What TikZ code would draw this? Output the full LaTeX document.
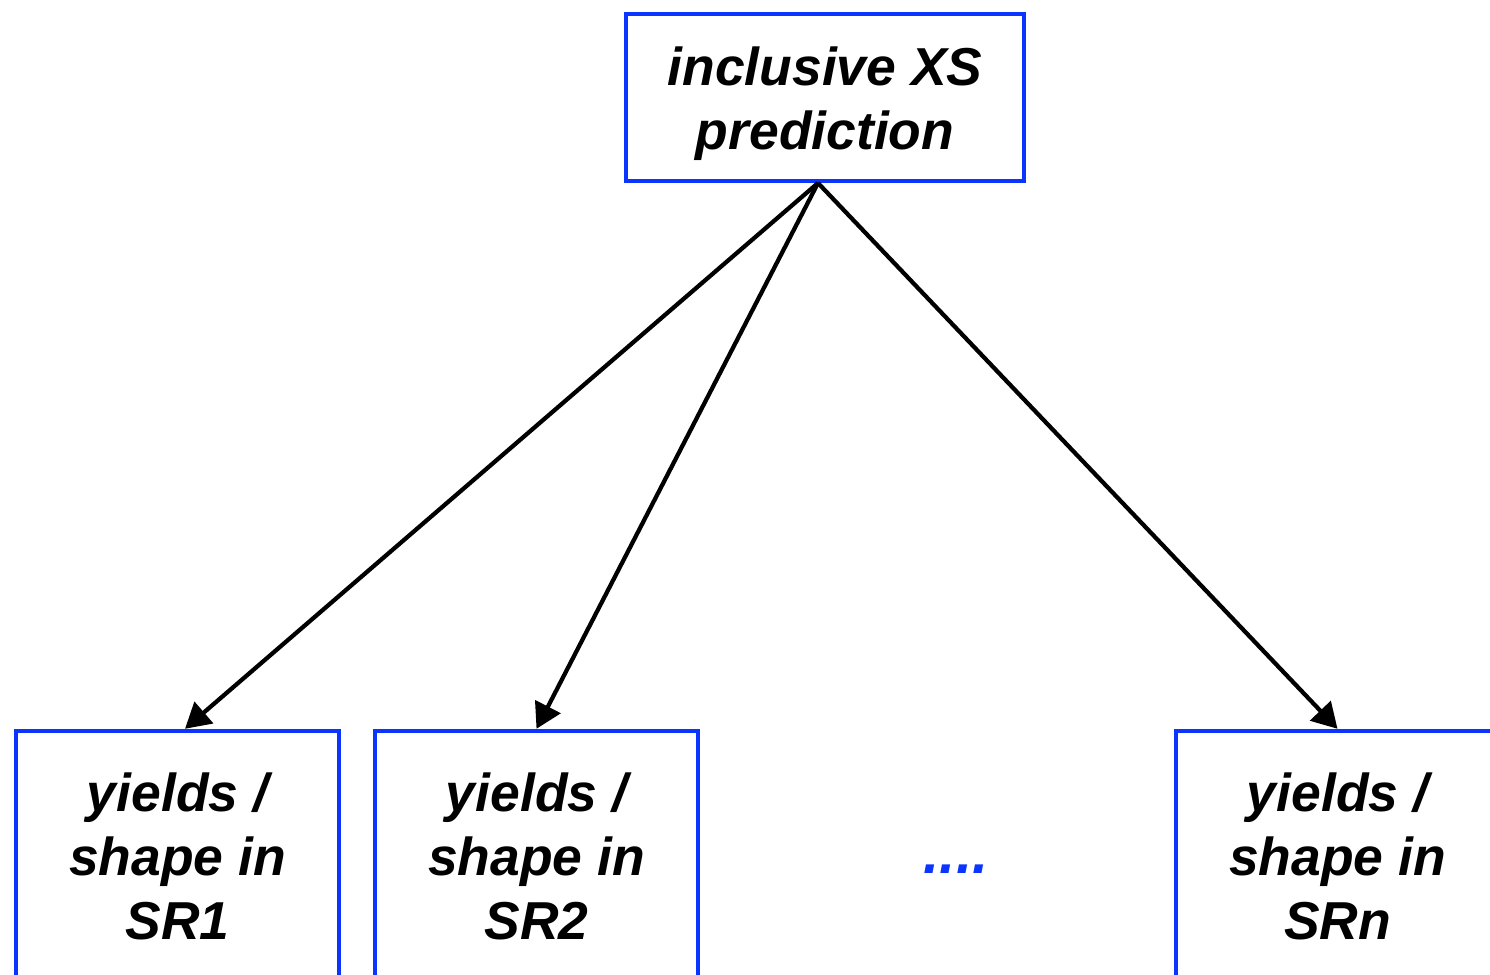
\documentclass[tikz,border=0pt]{standalone}
\usepackage{fontspec}
\setmainfont{Liberation Sans}
\usepackage{tikz}
\usetikzlibrary{arrows.meta,positioning}
\definecolor{boxBlue}{HTML}{0B35FF}

\begin{document}
\begin{tikzpicture}[
  x=0.02cm, y=-0.02cm,
  font=\fontsize{30.4}{36.4}\selectfont\bfseries\itshape, >={Triangle[length=0.5cm,width=0.56cm]},
  pred/.style={draw=boxBlue, line width=0.09cm, inner sep=0pt, align=center, minimum width=7.96cm, minimum height=3.34cm},
  region/.style={draw=boxBlue, line width=0.09cm, inner sep=0pt, align=center, minimum width=6.46cm, minimum height=5cm},
  link/.style={->, line width=0.085cm}
]
\useasboundingbox (0,0) rectangle (1490,974);

% top: the prediction
\node[pred] (xs) at (825,97.5) {\rule{0pt}{29pt}inclusive XS\\prediction};
\coordinate (split) at (818,183);

% bottom: signal regions
\node[region] (sr1) at (177.5,856) {yields /\\shape in\\SR1};
\node[region] (sr2) at (536.5,856) {yields /\\shape in\\SR2};
\node[region] (srn) at (1337.5,856) {yields /\\shape in\\SRn};
\node[anchor=base, text=boxBlue, font=\fontsize{33}{36}\selectfont\bfseries\itshape] (dots) at (956,873) {....};

\draw[link] (split) -- (sr1.north -| 185,0);
\draw[link] (split) -- (sr2.north);
\draw[link] (split) -- (srn.north);
\end{tikzpicture}
\end{document}
